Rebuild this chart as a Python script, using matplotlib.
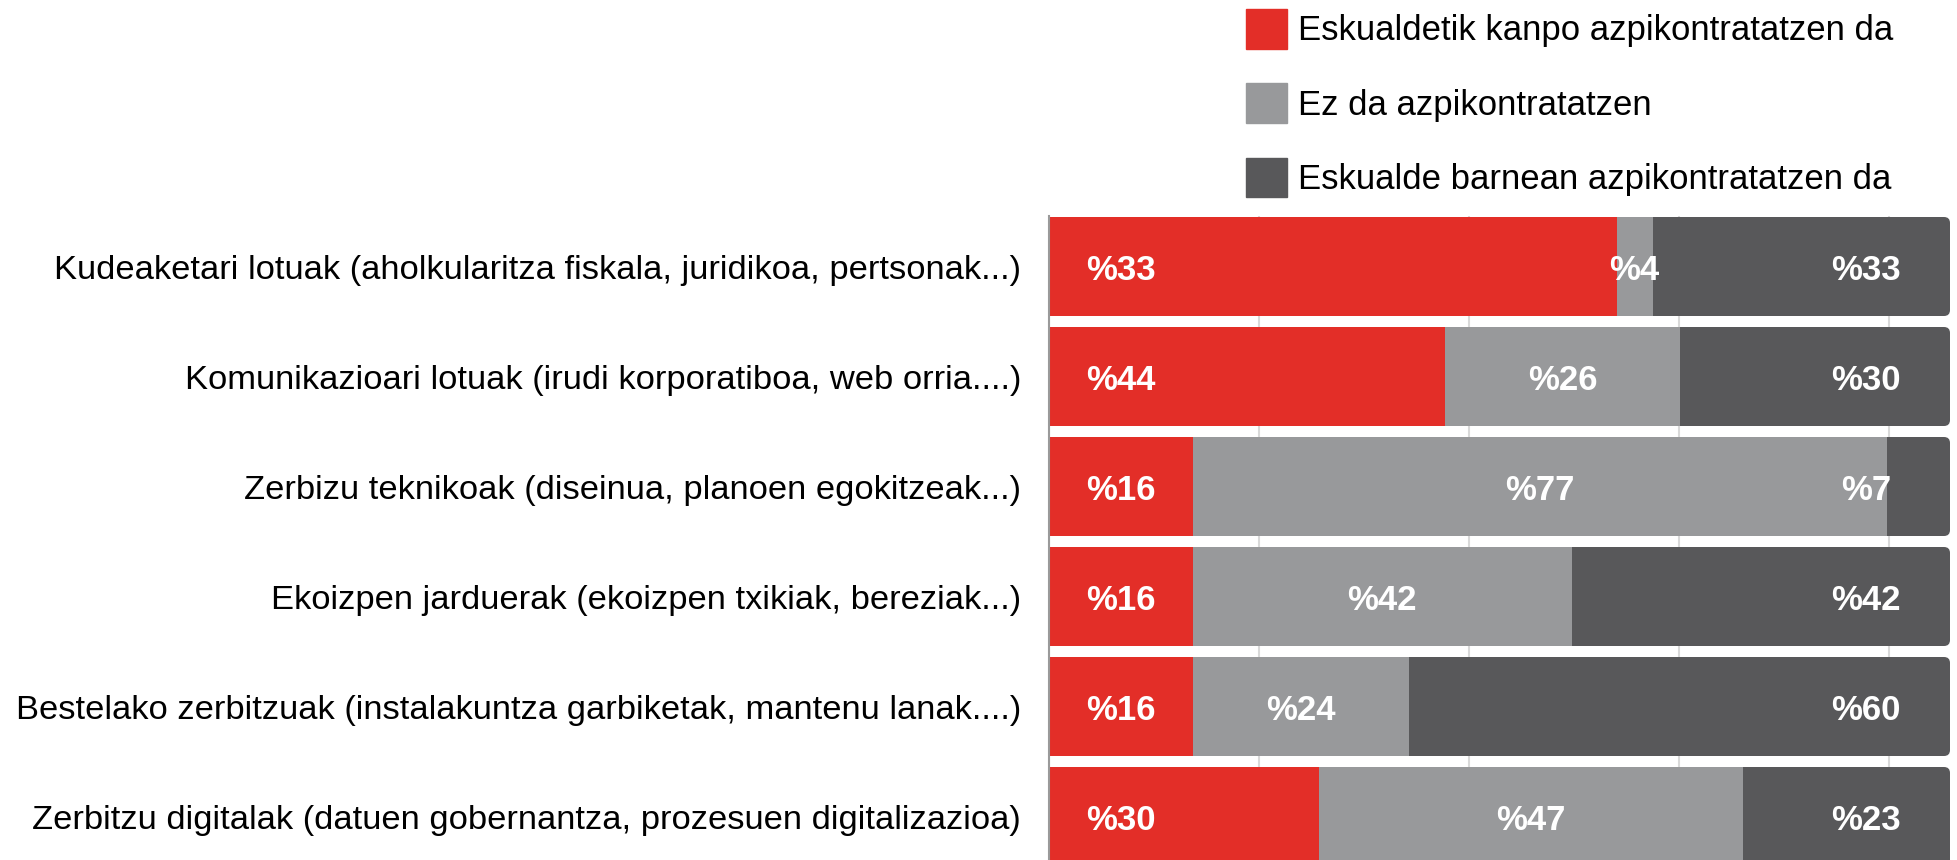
import matplotlib
matplotlib.use("Agg")
import matplotlib.pyplot as plt
from matplotlib.patches import FancyBboxPatch
import numpy as np

plt.rcParams['font.family'] = ['Liberation Sans', 'DejaVu Sans']

categories = [
    "Kudeaketari lotuak (aholkularitza fiskala, juridikoa, pertsonak...)",
    "Komunikazioari lotuak (irudi korporatiboa, web orria....)",
    "Zerbizu teknikoak (diseinua, planoen egokitzeak...)",
    "Ekoizpen jarduerak (ekoizpen txikiak, bereziak...)",
    "Bestelako zerbitzuak (instalakuntza garbiketak, mantenu lanak....)",
    "Zerbitzu digitalak (datuen gobernantza, prozesuen digitalizazioa)",
]
series_names = [
    "Eskualdetik kanpo azpikontratatzen da",
    "Ez da azpikontratatzen",
    "Eskualde barnean azpikontratatzen da",
]
# bar lengths as drawn
kanpo = [63, 44, 16, 16, 16, 30]
ez = [4, 26, 77, 42, 24, 47]
barnean = [33, 30, 7, 42, 60, 23]
# numbers printed on the red segments (first one reads %33 in the source)
kanpo_shown = [33, 44, 16, 16, 16, 30]

colors = ['#e32e28', '#98999b', '#58585a']

W, H = 1957, 860
fig = plt.figure(figsize=(W / 100, H / 100), dpi=100)

# axes placement in pixels
left_px, right_px, top_px = 1049, 1952, 216
ax = fig.add_axes([left_px / W, 0, (right_px - left_px) / W, (H - top_px) / H])

pitch = 110.0
first_center = 266.5
bar_h = 99 / pitch
ax.set_ylim((H - first_center) / pitch, (top_px - first_center) / pitch)
xmax = 100 * (right_px - left_px) / 901
ax.set_xlim(0, xmax)

y = np.arange(len(categories))
px_x = 901 / 100.0
r = 6
for i in range(len(categories)):
    clip = FancyBboxPatch((-5, i - bar_h / 2), 105, bar_h,
                          boxstyle=f"round,pad=0,rounding_size={r / px_x}",
                          mutation_aspect=(r / pitch) / (r / px_x),
                          transform=ax.transData)
    starts = [0, kanpo[i], kanpo[i] + ez[i]]
    widths = [kanpo[i], ez[i], barnean[i]]
    for s, w, c in zip(starts, widths, colors):
        b = ax.barh(i, w, left=s, height=bar_h, color=c, zorder=2)
        for p in b:
            p.set_clip_path(clip)

# legend handles
handles = [plt.Rectangle((0, 0), 1, 1, color=c) for c in colors]

lab_kw = dict(color='white', fontsize=25, fontweight='bold',
              ha='center', va='center_baseline', zorder=3)
for i in range(len(categories)):
    ax.text(8, i, f"%{kanpo_shown[i]}", **lab_kw)
    ax.text(kanpo[i] + ez[i] / 2, i, f"%{ez[i]}", **lab_kw)
    ax.text(90.7, i, f"%{barnean[i]}", **lab_kw)

ax.set_yticks(y)
ax.set_yticklabels(categories, fontsize=24.8)
ax.tick_params(axis='y', length=0, pad=20)
ax.set_xticks(np.arange(0, 100, 100 * 210 / 901))
ax.tick_params(axis='x', length=0, labelbottom=False)
ax.grid(axis='x', color='#d9d9d9', linewidth=1.5, zorder=0)
ax.set_axisbelow(True)
for side in ['top', 'right', 'bottom']:
    ax.spines[side].set_visible(False)
ax.spines['left'].set_color('#9a9a9a')
ax.spines['left'].set_linewidth(1.5)

fig.legend(handles, series_names, loc='upper left',
           bbox_to_anchor=(1246 / W, 1 - 9 / H), frameon=False,
           fontsize=25, handlelength=1.18, handleheight=1.38,
           handletextpad=0.33, labelspacing=1.0, borderpad=0,
           borderaxespad=0)

fig.savefig('out.png', dpi=100)
